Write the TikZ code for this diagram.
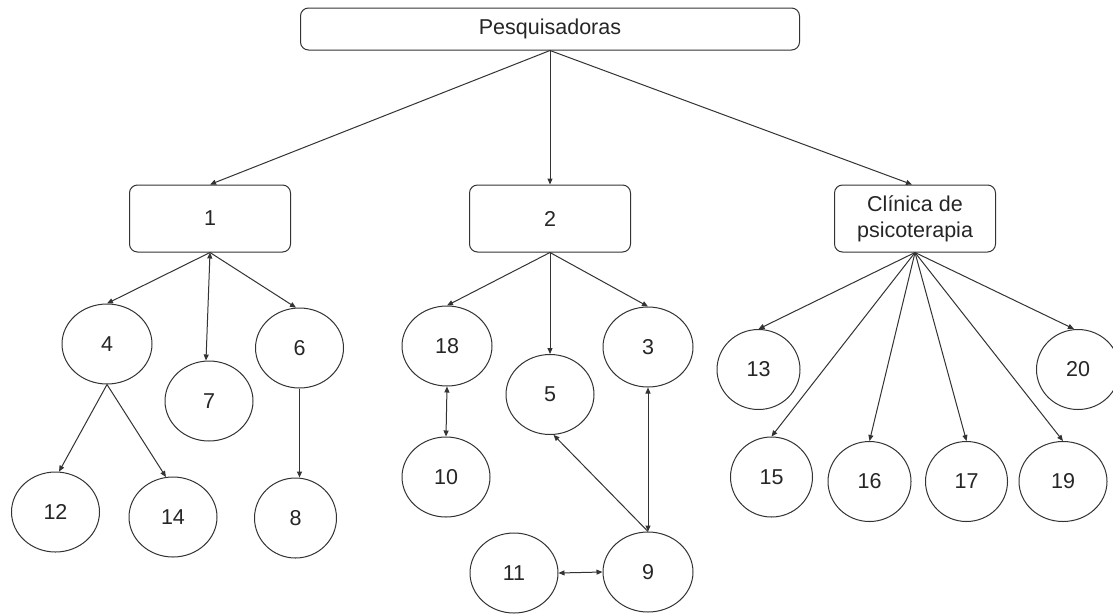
\documentclass[tikz,border=0pt]{standalone}
\usepackage{fontspec}
\setmainfont{Liberation Sans}
\usetikzlibrary{shapes.geometric,arrows.meta}
\definecolor{ln}{HTML}{333333}
\tikzset{
  every node/.style={font=\fontsize{21.5}{26}\selectfont, text=black!85},
  box/.style={draw=ln, line width=1pt, rounded corners=8pt, minimum width=161pt, minimum height=67pt, inner sep=0pt, align=center},
  topbox/.style={draw=ln, line width=1pt, rounded corners=8pt, minimum width=499pt, minimum height=42pt, inner sep=0pt},
  circ/.style={draw=ln, line width=1pt, ellipse, minimum width=88pt, minimum height=80pt, inner sep=0pt},
  arr/.style={draw=ln, line width=1pt, -{Triangle[length=6pt,width=5pt]}},
  darr/.style={draw=ln, line width=1pt, {Triangle[length=6pt,width=5pt]}-{Triangle[length=6pt,width=5pt]}}
}
\begin{document}
\begin{tikzpicture}[x=1pt,y=-1pt]
\useasboundingbox (0,0) rectangle (1113,614);
\fill[white] (0,0) rectangle (1113,614);

\node[topbox] (P) at (550,29) {Pesquisadoras};
\node[box] (b1) at (210,218.5) {1};
\node[box] (b2) at (550,218.5) {2};
\node[box] (bc) at (915,218.5) {Clínica de\\psicoterapia};

\node[circ, minimum width=90pt] (c4) at (107,344) {4};
\node[circ] (c7) at (209,401) {7};
\node[circ] (c6) at (299.5,348) {6};
\node[circ] (c12) at (55.5,512) {12};
\node[circ] (c14) at (173,517) {14};
\node[circ, minimum width=82pt] (c8) at (295.5,518) {8};

\node[circ, minimum width=90pt] (c18) at (447,346) {18};
\node[circ] (c5) at (550,394.5) {5};
\node[circ, minimum width=90pt] (c3) at (648,347) {3};
\node[circ] (c10) at (446,477) {10};
\node[circ] (c11) at (514,573) {11};
\node[circ, minimum width=90pt] (c9) at (648,572) {9};

\node[circ, minimum width=83pt] (c13) at (758.5,369.5) {13};
\node[circ, minimum width=83pt] (c20) at (1078,369.5) {20};
\node[circ, minimum width=82pt] (c15) at (771.5,477) {15};
\node[circ, minimum width=83pt] (c16) at (869.5,481.5) {16};
\node[circ, minimum width=82pt] (c17) at (966.5,481.5) {17};
\node[circ] (c19) at (1063,481.5) {19};

% top level
\draw[arr] (P.south) -- (b1.north);
\draw[arr] (P.south) -- (b2.north);
\draw[arr] (P.south) -- ([xshift=-3pt]bc.north);

% group 1
\draw[arr] (b1.south) -- (c4.north);
\draw[darr] (b1.south) -- ([xshift=-3pt]c7.north);
\draw[arr] (b1.south) -- (c6.95);
\draw[arr] (c4.south) -- (c12.85);
\draw[arr] (c4.south) -- (c14.100);
\draw[arr] (c6.south) -- (c8.north -| c6.south);

% group 2
\draw[arr] (b2.south) -- (c18.north);
\draw[arr] (b2.south) -- (c5.north);
\draw[arr] (b2.south) -- (c3.north);
\draw[darr] (c18.south) -- (c10.north);
\draw[darr] (c3.south) -- (c9.north);
\draw[arr] (c9.north) -- (c5.275);
\draw[darr] (c11.east) -- (c9.west);

% group clinic
\draw[arr] (bc.south) -- (c13.north);
\draw[arr] (bc.south) -- (c15.north);
\draw[arr] (bc.south) -- (c16.north);
\draw[arr] (bc.south) -- (c17.north);
\draw[arr] (bc.south) -- (c19.north);
\draw[arr] (bc.south) -- ([xshift=-4pt]c20.north);
\end{tikzpicture}
\end{document}
